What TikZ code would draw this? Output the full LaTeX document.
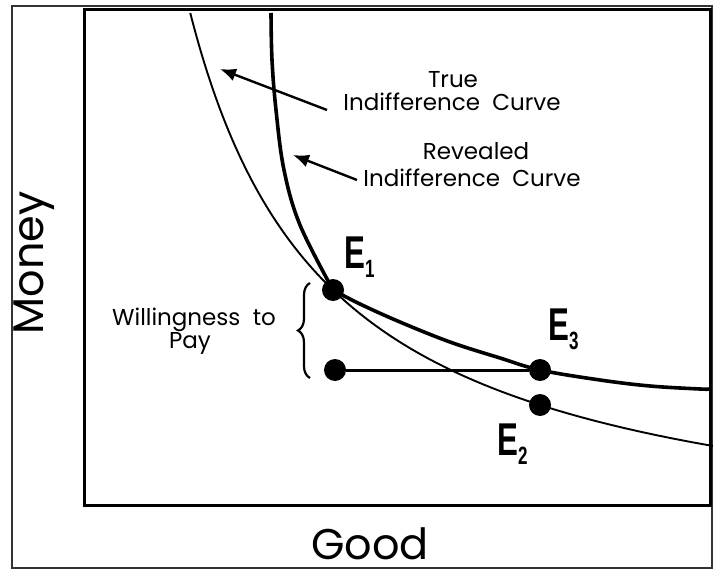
\documentclass[tikz,border=0pt]{standalone}
\usepackage{fontspec}
\setmainfont{Poppins}
\newfontfamily\elabfont{Liberation Sans}
\usetikzlibrary{arrows.meta,decorations.pathreplacing}
\newcommand{\elab}[1]{\scalebox{0.68}[1]{\elabfont\bfseries\fontsize{46}{46}\selectfont E\raisebox{-9pt}{\fontsize{25}{25}\selectfont #1}}}
\tikzset{
  lab/.style={inner sep=0pt, anchor=base, font=\fontsize{23}{23}\selectfont},
  axislab/.style={inner sep=0pt, anchor=base, font=\fontsize{43}{43}\selectfont},
  elabel/.style={inner sep=0pt, anchor=base west},
  dot/.style={circle, fill=black, inner sep=0pt, minimum size=22pt},
  pointer/.style={line width=2.4pt, -{Latex[length=16pt,width=13pt]}},
  thincurve/.style={line width=1.9pt},
  thickcurve/.style={line width=3.6pt, line join=round},
}
\begin{document}
\begin{tikzpicture}[x=1pt,y=-1pt]
\useasboundingbox (0,0) rectangle (714,572);
% frames
\draw[line width=1.6pt, black!80] (12,6) rectangle (712,568);
\draw[line width=3pt] (84,10) rectangle (710,505);
% points
\node[dot] (E1) at (333,290) {};
\node[dot] (W) at (335,370) {};
\node[dot] (E3) at (540,370) {};
\node[dot] (E2) at (540,405) {};
% true indifference curve (thin hyperbola)
\draw[thincurve] plot[domain=13:446, samples=120, variable=\t] ({50+770.33/((562.2-\t)/100)}, \t);
% revealed indifference curve (thick, kinked at E1)
\draw[thickcurve] plot[smooth, tension=0.6] coordinates {(271,13) (272,60) (276,110) (284,170) (300,225) (333,290)};
\draw[thickcurve] plot[smooth, tension=0.6] coordinates {(333,290) (360,304) (400,322) (450,342) (500,358) (540,370) (600,380) (650,386) (700,389) (710,389)};
% willingness to pay segment
\draw[line width=3pt] (W) -- (E3);
% brace
\draw[line width=2.2pt, decorate, decoration={brace, amplitude=12pt}] (310,378) -- (310,283);
% labels
\node[elabel] (l1) at (344,268) {\elab{1}};
\node[elabel] (l3) at (548,340) {\elab{3}};
\node[elabel] (l2) at (497,455) {\elab{2}};
\node[lab] (t1) at (453,88) {True};
\node[lab] (t2) at (452,111) {Indifference\ \ Curve};
\node[lab] (r1) at (476,160) {Revealed};
\node[lab] (r2) at (472,186) {Indifference\ \ Curve};
\node[lab] (w1) at (194,325) {Willingness\ \ to};
\node[lab] (w2) at (190,348) {Pay};
\coordinate (trueTip) at (220,69);
\coordinate (revTip) at (293,155);
\draw[pointer] (327,110) -- (trueTip);
\draw[pointer] (357,180) -- (revTip);
\node[axislab] (good) at (370,559) {Good};
\node[axislab, rotate=90] (money) at (43,263) {Money};
\end{tikzpicture}
\end{document}
